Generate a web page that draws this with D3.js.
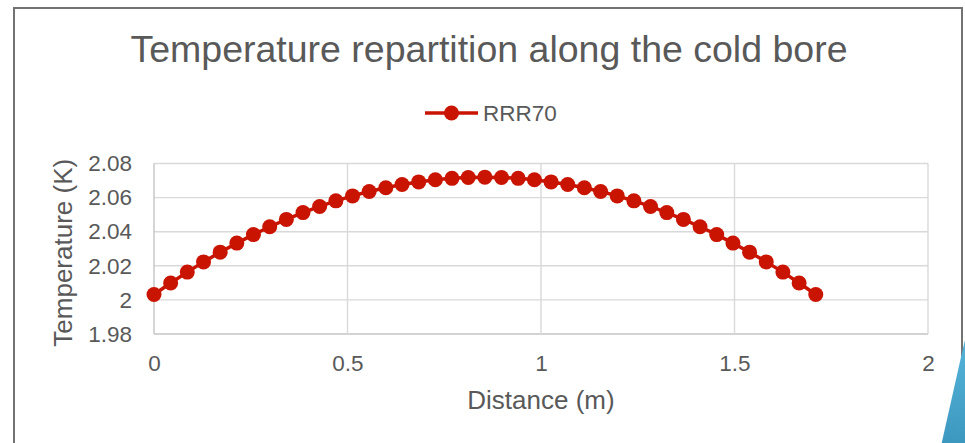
<!DOCTYPE html>
<html>
<head>
<meta charset="utf-8">
<script src="https://cdn.jsdelivr.net/npm/d3@7"></script>
<style>
  body { margin: 0; background: #fff; }
  text { font-family: "Liberation Sans", Arial, sans-serif; fill: #595959; }
</style>
</head>
<body>
<div id="chart"></div>
<script>
// Values
const distance = [0, 0.043, 0.086, 0.128, 0.171, 0.214, 0.257, 0.299, 0.342, 0.385,
    0.428, 0.470, 0.513, 0.556, 0.599, 0.641, 0.684, 0.727, 0.770, 0.812,
    0.855, 0.898, 0.941, 0.983, 1.026, 1.069, 1.112, 1.154, 1.197, 1.240,
    1.283, 1.325, 1.368, 1.411, 1.454, 1.496, 1.539, 1.582, 1.625, 1.667, 1.710];
const temperature = [2.0032, 2.0099, 2.0163, 2.0223, 2.0280, 2.0333, 2.0383, 2.0429, 2.0472, 2.0512,
    2.0548, 2.0581, 2.0610, 2.0636, 2.0658, 2.0677, 2.0692, 2.0705, 2.0713, 2.0718,
    2.0720, 2.0718, 2.0713, 2.0705, 2.0692, 2.0677, 2.0658, 2.0636, 2.0610, 2.0581,
    2.0548, 2.0512, 2.0472, 2.0429, 2.0383, 2.0333, 2.0280, 2.0223, 2.0163, 2.0099, 2.0032];
const xTicks = [0, 0.5, 1, 1.5, 2];
const yTicks = [1.98, 2, 2.02, 2.04, 2.06, 2.08];
const seriesName = "RRR70";
const chartTitle = "Temperature repartition along the cold bore";

const W = 965, H = 443;
const plot = { left: 154, right: 928, top: 163.5, bottom: 334 };
const red = "#c81400";

const svg = d3.select("#chart").append("svg")
    .attr("width", W)
    .attr("height", H);

const x = d3.scaleLinear().domain([0, 2]).range([plot.left, plot.right]);
const y = d3.scaleLinear().domain([1.98, 2.08]).range([plot.bottom, plot.top]);

// Outer frame (left, top, right)
svg.append("path")
    .attr("d", `M14,${H} L14,8 L962,8 L962,${H}`)
    .attr("fill", "none")
    .attr("stroke", "#737373")
    .attr("stroke-width", 2);

// Title
svg.append("text")
    .attr("x", 489)
    .attr("y", 62)
    .attr("text-anchor", "middle")
    .style("font-size", "37.5px")
    .text(chartTitle);

// Legend
const legend = svg.append("g").attr("transform", "translate(425,113)");
legend.append("line")
    .attr("x1", 0).attr("x2", 53)
    .attr("stroke", red)
    .attr("stroke-width", 3.5);
legend.append("circle")
    .attr("cx", 26.5)
    .attr("r", 7.5)
    .attr("fill", red);
legend.append("text")
    .attr("x", 58)
    .attr("y", 8)
    .style("font-size", "22.5px")
    .text(seriesName);

// Gridlines
const grid = svg.append("g");
grid.selectAll(".hg")
    .data(yTicks)
    .enter()
    .append("line")
    .attr("x1", plot.left).attr("x2", plot.right)
    .attr("y1", d => y(d)).attr("y2", d => y(d))
    .attr("stroke", d => d === 1.98 ? "#c4c4c4" : "#d9d9d9")
    .attr("stroke-width", 1.4);
grid.selectAll(".vg")
    .data(xTicks)
    .enter()
    .append("line")
    .attr("y1", plot.top).attr("y2", plot.bottom)
    .attr("x1", d => x(d)).attr("x2", d => x(d))
    .attr("stroke", d => d === 0 ? "#c4c4c4" : "#d9d9d9")
    .attr("stroke-width", 1.4);

// Axes (labels only, grid drawn separately)
const xAxis = svg.append("g")
    .attr("transform", `translate(0,${plot.bottom})`)
    .call(d3.axisBottom(x).tickValues(xTicks).tickSize(0).tickPadding(17).tickFormat(d => String(d)));
const yAxis = svg.append("g")
    .attr("transform", `translate(${plot.left},0)`)
    .call(d3.axisLeft(y).tickValues(yTicks).tickSize(0).tickPadding(22).tickFormat(d => String(d)));
[xAxis, yAxis].forEach(a => {
    a.select(".domain").remove();
    a.selectAll("text")
        .style("font-size", "22.5px")
        .style("font-family", "'Liberation Sans', Arial, sans-serif")
        .attr("fill", "#595959");
});
xAxis.selectAll("text").attr("dy", "0.9em");

// Axis titles
svg.append("text")
    .attr("x", x(1))
    .attr("y", 409)
    .attr("text-anchor", "middle")
    .style("font-size", "26px")
    .text("Distance (m)");

svg.append("text")
    .attr("transform", "rotate(-90)")
    .attr("x", -(plot.top + plot.bottom) / 2 - 4)
    .attr("y", 72)
    .attr("text-anchor", "middle")
    .style("font-size", "26px")
    .text("Temperature (K)");

// Series
const data = distance.map((d, i) => ({ x: d, t: temperature[i] }));

svg.append("path")
    .datum(data)
    .attr("fill", "none")
    .attr("stroke", red)
    .attr("stroke-width", 3.5)
    .attr("d", d3.line().x(d => x(d.x)).y(d => y(d.t)));

svg.append("g")
    .selectAll("circle")
    .data(data)
    .enter()
    .append("circle")
    .attr("cx", d => x(d.x))
    .attr("cy", d => y(d.t))
    .attr("r", 7.5)
    .attr("fill", red);

// Slide decoration in the bottom-right corner
const grad = svg.append("defs").append("linearGradient")
    .attr("id", "blue").attr("x1", 0).attr("x2", 0).attr("y1", 0).attr("y2", 1);
grad.append("stop").attr("offset", "0%").attr("stop-color", "#55b3d8");
grad.append("stop").attr("offset", "100%").attr("stop-color", "#3d98c0");
svg.append("path")
    .attr("d", `M941.7,${H} L963.5,346 L965,340 L965,${H} Z`)
    .attr("fill", "url(#blue)");
</script>
</body>
</html>
